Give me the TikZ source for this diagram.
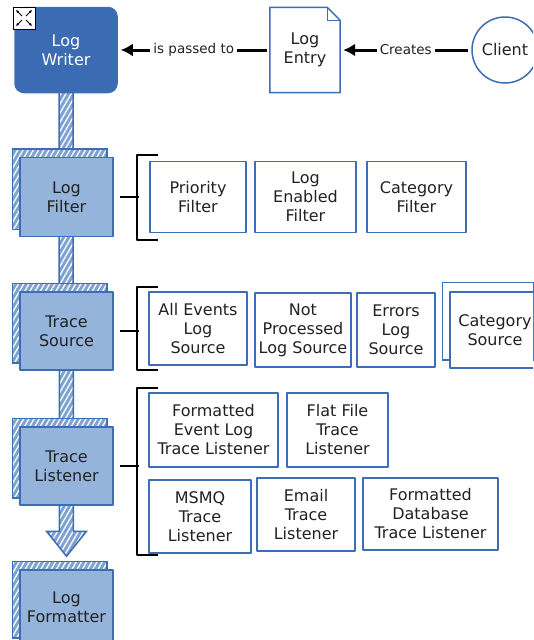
\documentclass[tikz,border=0pt]{standalone}
\usepackage{fontspec}
\setmainfont{DejaVu Sans}
\usetikzlibrary{positioning}
\usetikzlibrary{arrows.meta,patterns.meta}

\definecolor{penblue}{HTML}{3D6DB4}
\definecolor{darkbox}{HTML}{3A6BB3}
\definecolor{midbox}{HTML}{95B4DC}
\definecolor{barfill}{HTML}{7FA2D2}
\definecolor{ink}{HTML}{222222}

\pgfdeclarelayer{bar}
\pgfdeclarelayer{back}
\pgfsetlayers{bar,back,main}

\begin{document}
\begin{tikzpicture}[x=1pt, y=-1pt, line join=round,
    every node/.style={font=\fontsize{16}{19}\selectfont, text=ink, align=center, inner sep=0pt},
    writerbox/.style={rectangle, rounded corners=9pt, draw=penblue, line width=1.5pt, fill=darkbox, text=white, minimum width=102pt, minimum height=85pt},
    layer/.style={rectangle, draw=penblue, line width=1.5pt, fill=midbox, minimum width=93pt, minimum height=79pt},
    item/.style={rectangle, draw=penblue, line width=1.5pt, fill=white},
    hatch/.style={draw=penblue, line width=1.5pt, preaction={fill=barfill}, pattern={Lines[angle=60,distance=4.5pt,line width=1.3pt]}, pattern color=white},
    link/.style={line width=3pt, shorten >=3pt, shorten <=3pt, -{Latex[length=12pt,width=13pt]}},
    lbl/.style={fill=white, inner sep=3pt, font=\fontsize{13.5}{15}\selectfont},
    brace/.style={line width=1.5pt, black}]

\useasboundingbox (0,0) rectangle (533,640);
\clip (0,0) rectangle (533,640);

% Top row
\node[writerbox] (writer) at (66,50) {Log\\Writer};
\node[minimum width=70pt, minimum height=85pt] (entry) at (305,50) {Log\\Entry};
\node[item, circle, minimum size=66pt] (client) at (505,50) {Client};
\node[draw=black, fill=white, line width=0.8pt, minimum size=22pt] (expand) at (24,18) {};
\foreach \dx/\dy in {-1/-1,1/-1,-1/1,1/1} {
    \draw[line width=0.9pt, -{Latex[length=3pt,width=3pt]}] ([shift={(2*\dx,2*\dy)}]expand.center) -- ([shift={(8*\dx,8*\dy)}]expand.center);
}

\draw[link] (entry) -- node[lbl] {is passed to} (writer);
\draw[link] (client) -- node[lbl] {Creates} (entry);

% Pipeline stages
\node[layer] (filter) at (66.5,197) {Log\\Filter};
\node[layer, minimum height=78pt] (tsource) at (66.5,331) {Trace\\Source};
\node[layer, minimum height=78pt] (tlist) at (66.5,466) {Trace\\Listener};
\node[layer, minimum height=75pt] (formatter) at (66.5,607.5) {Log\\Formatter};

% Filters
\node[item, minimum width=96pt, minimum height=71pt] (prio) at (198,197) {Priority\\Filter};
\node[item, minimum width=101pt, minimum height=71pt] (enabled) at (305.5,197) {Log\\Enabled\\Filter};
\node[item, minimum width=99pt, minimum height=71pt] (catfilter) at (416.5,197) {Category\\Filter};

% Sources
\node[item, minimum width=98pt, minimum height=73pt] (allevents) at (198,328.5) {All Events\\Log\\Source};
\node[item, minimum width=96pt, minimum height=74pt] (notproc) at (303,330) {Not\\Processed\\Log Source};
\node[item, minimum width=78pt, minimum height=74pt] (errors) at (396,330) {Errors\\Log\\Source};
\node[item, minimum width=90pt, minimum height=76pt] (catsource) at (495,330) {Category\\Source};

% Listeners
\node[item, minimum width=129pt, minimum height=74pt] (fmtevent) at (213.5,430) {Formatted\\Event Log\\Trace Listener};
\node[item, minimum width=101pt, minimum height=74pt] (flatfile) at (337.5,430) {Flat File\\Trace\\Listener};
\node[item, minimum width=102pt, minimum height=73pt] (msmq) at (200,516.5) {MSMQ\\Trace\\Listener};
\node[item, minimum width=98pt, minimum height=73pt] (email) at (306,514.5) {Email\\Trace\\Listener};
\node[item, minimum width=135pt, minimum height=72pt] (fmtdb) at (430.5,514) {Formatted\\Database\\Trace Listener};

% Stacked copies and document shape
\begin{pgfonlayer}{back}
\foreach \n in {filter,tsource,tlist,formatter} {
    \draw[hatch] ([shift={(-7,-8)}]\n.north west) rectangle ([shift={(-7,-8)}]\n.south east);
}
\draw[item] ([shift={(-7,-9)}]catsource.north west) rectangle ([shift={(-7,-9)}]catsource.south east);
\draw[item] (entry.north west) -- ([xshift=-13pt]entry.north east) -- ([yshift=-13pt]entry.north east) -- (entry.south east) -- (entry.south west) -- cycle;
\draw[penblue, line width=1.2pt] ([xshift=-13pt]entry.north east) |- ([yshift=-13pt]entry.north east);
\end{pgfonlayer}

% Flow bar
\begin{pgfonlayer}{bar}
\coordinate (tip) at ([yshift=13pt]formatter.north);
\draw[hatch] ([xshift=-7pt]writer.center) -- ([shift={(-7,-25)}]tip) -- ([shift={(-20,-25)}]tip) -- (tip)
    -- ([shift={(20,-25)}]tip) -- ([shift={(7,-25)}]tip) -- ([xshift=7pt]writer.center) -- cycle;
\end{pgfonlayer}

% Brackets
\foreach \n/\t/\b in {filter/155/240, tsource/287/370, tlist/388/555} {
    \draw[brace] ([xshift=6pt]\n.east) -- ++(19,0);
    \draw[brace] (158,\t) -- (137,\t) -- (137,\b) -- (158,\b);
}

\end{tikzpicture}
\end{document}
